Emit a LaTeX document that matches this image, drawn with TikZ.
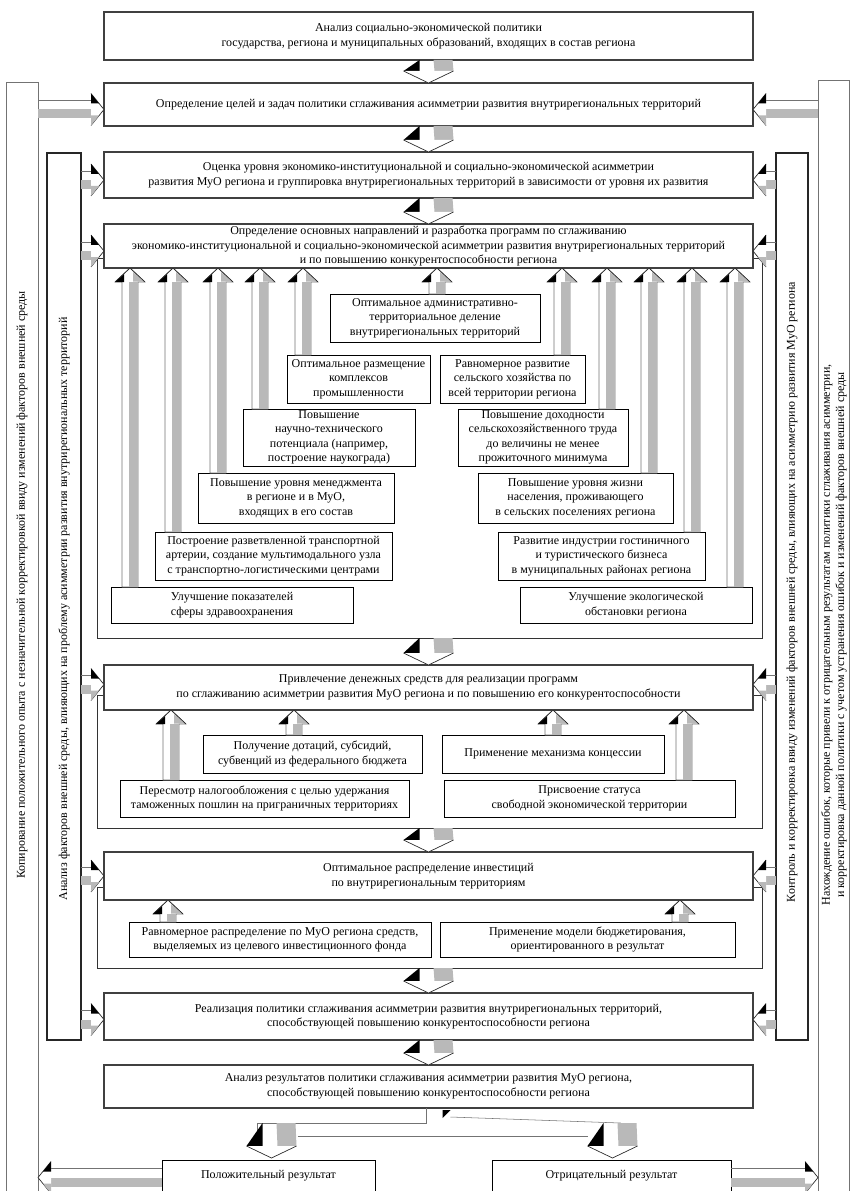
\documentclass[tikz,border=0pt]{standalone}
\usepackage{fontspec}
\setmainfont{Liberation Serif}
\usetikzlibrary{calc}
\newcommand\fs{\fontsize{9}{10.8}\selectfont}
\tikzset{
 mainbox/.style={draw=black!75, line width=1.3pt, fill=white, align=center, font=\fs, inner sep=1pt, outer sep=0pt},
 subbox/.style={draw=black, line width=0.6pt, fill=white, align=center, font=\fs, inner sep=1pt, outer sep=0pt},
 cframe/.style={draw=black!80, line width=0.6pt, inner sep=0pt, outer sep=0pt},
 outercol/.style={draw=black!55, line width=0.6pt, inner sep=0pt, outer sep=0pt},
 innercol/.style={draw=black!85, line width=1.3pt, inner sep=0pt, outer sep=0pt},
 coltext/.style={font=\fs, rotate=90, align=center, inner sep=0pt},
 spk/.style={fill=gray!55},
 ln/.style={draw=black!85, line width=0.5pt},
 faint/.style={draw=black!55, line width=0.4pt},
}
\newcommand\mkbox[7]{\node[#1, minimum width={(#5-#3)*0.75pt}, minimum height={(#6-#4)*0.75pt}] (#2) at ({(#3+#5)/2},{(#4+#6)/2}) {#7};}
% down 3D arrow between a top point and a tip point
\newcommand\darrc[2]{%
 \fill[spk] ($(#1)+(5,0)$) -- ($(#1)+(24,0)$) -- ($(#2)+(25,-12)$) -- ($(#2)+(6,-12)$) -- cycle;
 \fill[black] ($(#2)+(-25,-12)$) -- ($(#1)+(-9,0)$) -- ($(#2)+(-9,-12)$) -- cycle;
 \draw[ln, fill=white] ($(#2)+(-25,-12)$) -- (#2) -- ($(#2)+(25,-12)$);}
\newcommand\darr[2]{\path let \p1=(#1.south), \p2=(#2.north) in (\x2,\y1) coordinate (dT) (\x2,\y2) coordinate (dB); \darrc{dT}{dB}}
% up 3D arrow at image x from src to dst
\newcommand\uarr[3]{%
 \path let \p1=(#2.north), \p2=(#3.south) in ({#1*0.75pt},\y1) coordinate (uB) ({#1*0.75pt},\y2) coordinate (uT);
 \draw[faint, fill=white] (uT) -- ($(uT)+(15,14)$) -- ($(uT)+(8,14)$) -- ($(uB)+(8,0)$) -- ($(uB)+(-8,0)$) -- ($(uT)+(-8,14)$) -- ($(uT)+(-15,14)$) -- cycle;
 \fill[spk] ($(uT)+(-1,14)$) rectangle ($(uB)+(8,0)$);
 \fill[black] ($(uT)+(-15,14)$) -- ($(uT)+(-6,6)$) -- ($(uT)+(-6,14)$) -- cycle;
 \fill[spk] ($(uT)+(3,4)$) -- ($(uT)+(14,13.5)$) -- ($(uT)+(3,13.5)$) -- cycle;
 \draw[ln] ($(uT)+(-15,14)$) -- (uT) -- ($(uT)+(15,14)$);}
% horizontal 3D arrow: tail point, tip point, direction (+1 right, -1 left)
\newcommand\harr[3]{%
 \fill[spk] (#1) rectangle ($(#2)+({-13*(#3)},9)$);
 \draw[faint] ($(#1)+(0,-9)$) -- ($(#2)+({-13*(#3)},-9)$);
 \draw[ln, fill=white] ($(#2)+({-13*(#3)},-16)$) -- (#2) -- ($(#2)+({-13*(#3)},16)$);
 \fill[black] ($(#2)+({-13*(#3)},-16)$) -- ($(#2)+({-5*(#3)},-6)$) -- ($(#2)+({-13*(#3)},-6)$) -- cycle;
 \fill[spk] ($(#2)+({-13*(#3)},16)$) -- ($(#2)+({-5*(#3)},6)$) -- ($(#2)+({-13*(#3)},6)$) -- cycle;}
\newcommand\sidearr[4]{\path let \p1=(#1), \p2=(#2) in ($(\x1,\y2)+(0,#4)$) coordinate (sT) ($(\x2,\y2)+(0,#4)$) coordinate (sH); \harr{sT}{sH}{#3}}
\newcommand\backarr[4]{\path let \p1=(#1), \p2=(#2) in ($(\x1,\y1)+(0,#4)$) coordinate (sT) ($(\x2,\y1)+(0,#4)$) coordinate (sH); \harr{sT}{sH}{#3}}

\begin{document}
\begin{tikzpicture}[x=0.75pt,y=-0.75pt]
\useasboundingbox (0,0) rectangle (851,1191);
% side columns
\mkbox{outercol}{colOL}{6}{82}{38}{1210}{}
\mkbox{outercol}{colOR}{818}{80}{849}{1210}{}
\mkbox{innercol}{colIL}{47}{153}{81}{1040}{}
\mkbox{innercol}{colIR}{776}{153}{808}{1040}{}
\node[coltext] (tOL) at (22,585) {Копирование положительного опыта с незначительной корректировкой ввиду изменений факторов внешней среды};
\node[coltext] (tIL) at (64,609) {Анализ факторов внешней среды, влияющих на проблему асимметрии развития внутрирегиональных территорий};
\node[coltext] (tIR) at (792,592) {Контроль и корректировка ввиду изменений факторов внешней среды, влияющих на асимметрию развития МуО региона};
\node[coltext] (tOR) at (834,635) {Нахождение ошибок, которые привели к отрицательным результатам политики сглаживания асимметрии,\\и корректировка данной политики с учетом устранения ошибок и изменений факторов внешней среды};
% containers
\mkbox{cframe}{contA}{97}{258}{762}{638}{}
\mkbox{cframe}{contB}{97}{695}{762}{828}{}
\mkbox{cframe}{contC}{97}{887}{762}{968}{}
% main boxes
\mkbox{mainbox}{b1}{104}{12}{753}{60}{Анализ социально-экономической политики\\государства, региона и муниципальных образований, входящих в состав региона}
\mkbox{mainbox}{b2}{104}{83}{753}{126}{Определение целей и задач политики сглаживания асимметрии развития внутрирегиональных территорий}
\mkbox{mainbox}{b3}{104}{152}{753}{198}{Оценка уровня экономико-институциональной и социально-экономической асимметрии\\развития МуО региона и группировка внутрирегиональных территорий в зависимости от уровня их развития}
\mkbox{mainbox}{b4}{104}{224}{753}{268}{Определение основных направлений и разработка программ по сглаживанию\\экономико-институциональной и социально-экономической асимметрии развития внутрирегиональных территорий\\и по повышению конкурентоспособности региона}
\mkbox{mainbox}{b5}{104}{665}{753}{710}{Привлечение денежных средств для реализации программ\\по сглаживанию асимметрии развития МуО региона и по повышению его конкурентоспособности}
\mkbox{mainbox}{b6}{104}{852}{753}{900}{Оптимальное распределение инвестиций\\по внутрирегиональным территориям}
\mkbox{mainbox}{b7}{104}{993}{753}{1040}{Реализация политики сглаживания асимметрии развития внутрирегиональных территорий,\\способствующей повышению конкурентоспособности региона}
\mkbox{mainbox}{b8}{104}{1065}{753}{1108}{Анализ результатов политики сглаживания асимметрии развития МуО региона,\\способствующей повышению конкурентоспособности региона}
% sub boxes A
\mkbox{subbox}{a0}{330}{294}{540}{342}{Оптимальное административно-\\территориальное деление\\внутрирегиональных территорий}
\mkbox{subbox}{a1L}{287}{355}{430}{403}{Оптимальное размещение\\комплексов\\промышленности}
\mkbox{subbox}{a1R}{440}{355}{585}{403}{Равномерное развитие\\сельского хозяйства по\\всей территории региона}
\mkbox{subbox}{a2L}{243}{409}{415}{466}{Повышение\\научно-технического\\потенциала (например,\\построение наукограда)}
\mkbox{subbox}{a2R}{458}{409}{628}{466}{Повышение доходности\\сельскохозяйственного труда\\до величины не менее\\прожиточного минимума}
\mkbox{subbox}{a3L}{198}{473}{394}{523}{Повышение уровня менеджмента\\в регионе и в МуО,\\входящих в его состав}
\mkbox{subbox}{a3R}{478}{473}{673}{523}{Повышение уровня жизни\\населения, проживающего\\в сельских поселениях региона}
\mkbox{subbox}{a4L}{155}{532}{392}{580}{Построение разветвленной транспортной\\артерии, создание мультимодального узла\\с транспортно-логистическими центрами}
\mkbox{subbox}{a4R}{498}{532}{705}{580}{Развитие индустрии гостиничного\\и туристического бизнеса\\в муниципальных районах региона}
\mkbox{subbox}{a5L}{111}{587}{353}{623}{Улучшение показателей\\сферы здравоохранения}
\mkbox{subbox}{a5R}{520}{587}{752}{623}{Улучшение экологической\\обстановки региона}
% sub boxes B
\mkbox{subbox}{bb1L}{203}{735}{422}{773}{Получение дотаций, субсидий,\\субвенций из федерального бюджета}
\mkbox{subbox}{bb1R}{442}{735}{664}{773}{Применение механизма концессии}
\mkbox{subbox}{bb2L}{120}{780}{409}{817}{Пересмотр налогообложения с целью удержания\\таможенных пошлин на приграничных территориях}
\mkbox{subbox}{bb2R}{444}{780}{735}{817}{Присвоение статуса\\свободной экономической территории}
% sub boxes C
\mkbox{subbox}{c1L}{129}{922}{431}{957}{Равномерное распределение по МуО региона средств,\\выделяемых из целевого инвестиционного фонда}
\mkbox{subbox}{c1R}{440}{922}{735}{957}{Применение модели бюджетирования,\\ориентированного в результат}
% results
\mkbox{subbox}{rpos}{162}{1160}{375}{1191}{Положительный результат}
\mkbox{subbox}{rneg}{492}{1160}{731}{1191}{Отрицательный результат}
% stage arrows
\darr{b1}{b2}
\darr{b2}{b3}
\darr{b3}{b4}
\darr{contA}{b5}
\darr{contB}{b6}
\darr{contC}{b7}
\darr{b7}{b8}
% up arrows A
\uarr{130}{a5L}{b4}
\uarr{173}{a4L}{b4}
\uarr{218}{a3L}{b4}
\uarr{260}{a2L}{b4}
\uarr{303}{a1L}{b4}
\uarr{437}{a0}{b4}
\uarr{562}{a1R}{b4}
\uarr{607}{a2R}{b4}
\uarr{649}{a3R}{b4}
\uarr{692}{a4R}{b4}
\uarr{735}{a5R}{b4}
% up arrows B
\uarr{171}{bb2L}{b5}
\uarr{294}{bb1L}{b5}
\uarr{553}{bb1R}{b5}
\uarr{684}{bb2R}{b5}
% up arrows C
\uarr{168}{c1L}{b6}
\uarr{680}{c1R}{b6}
% side arrows
\sidearr{colOL.east}{b2.west}{1}{5}
\sidearr{colOR.west}{b2.east}{-1}{5}
\foreach \b/\d in {b3/5,b4/5,b5/-3,b6/0,b7/3}{
 \sidearr{colIL.east}{\b.west}{1}{\d}
 \sidearr{colIR.west}{\b.east}{-1}{\d}
}
% fork
\coordinate (fkY) at (0,1123);
\coordinate (fkS) at (b8.south |- fkY);
\coordinate (fkL) at ($(rpos.north |- fkY)+(3,0)$);
\coordinate (fkR) at ($(rneg.north |- fkY)+(1,0)$);
\coordinate (fkLt) at ($(rpos.north)+(3,-2)$);
\coordinate (fkRt) at ($(rneg.north)+(1,-2)$);
\draw[faint] ($(b8.south)+(-2,0)$) -- ($(fkS)+(-2,0)$) -- ($(fkL)+(-14,0)$) -- ++(0,11);
\draw[faint] ($(b8.south)+(22,9)$) -- ($(fkR)+(8,0)$) -- ++(0,10);
\draw[faint] ($(fkL)+(26,13)$) -- ($(fkR)+(-25,13)$);
\fill[black] ($(b8.south)+(14,2)$) -- ($(b8.south)+(22,2)$) -- ($(b8.south)+(14,10)$) -- cycle;
\darrc{fkL}{fkLt}
\darrc{fkR}{fkRt}
% back arrows
\backarr{rpos.west}{colOL.east}{-1}{2}
\backarr{rneg.east}{colOR.west}{1}{2}
\end{tikzpicture}
\end{document}
